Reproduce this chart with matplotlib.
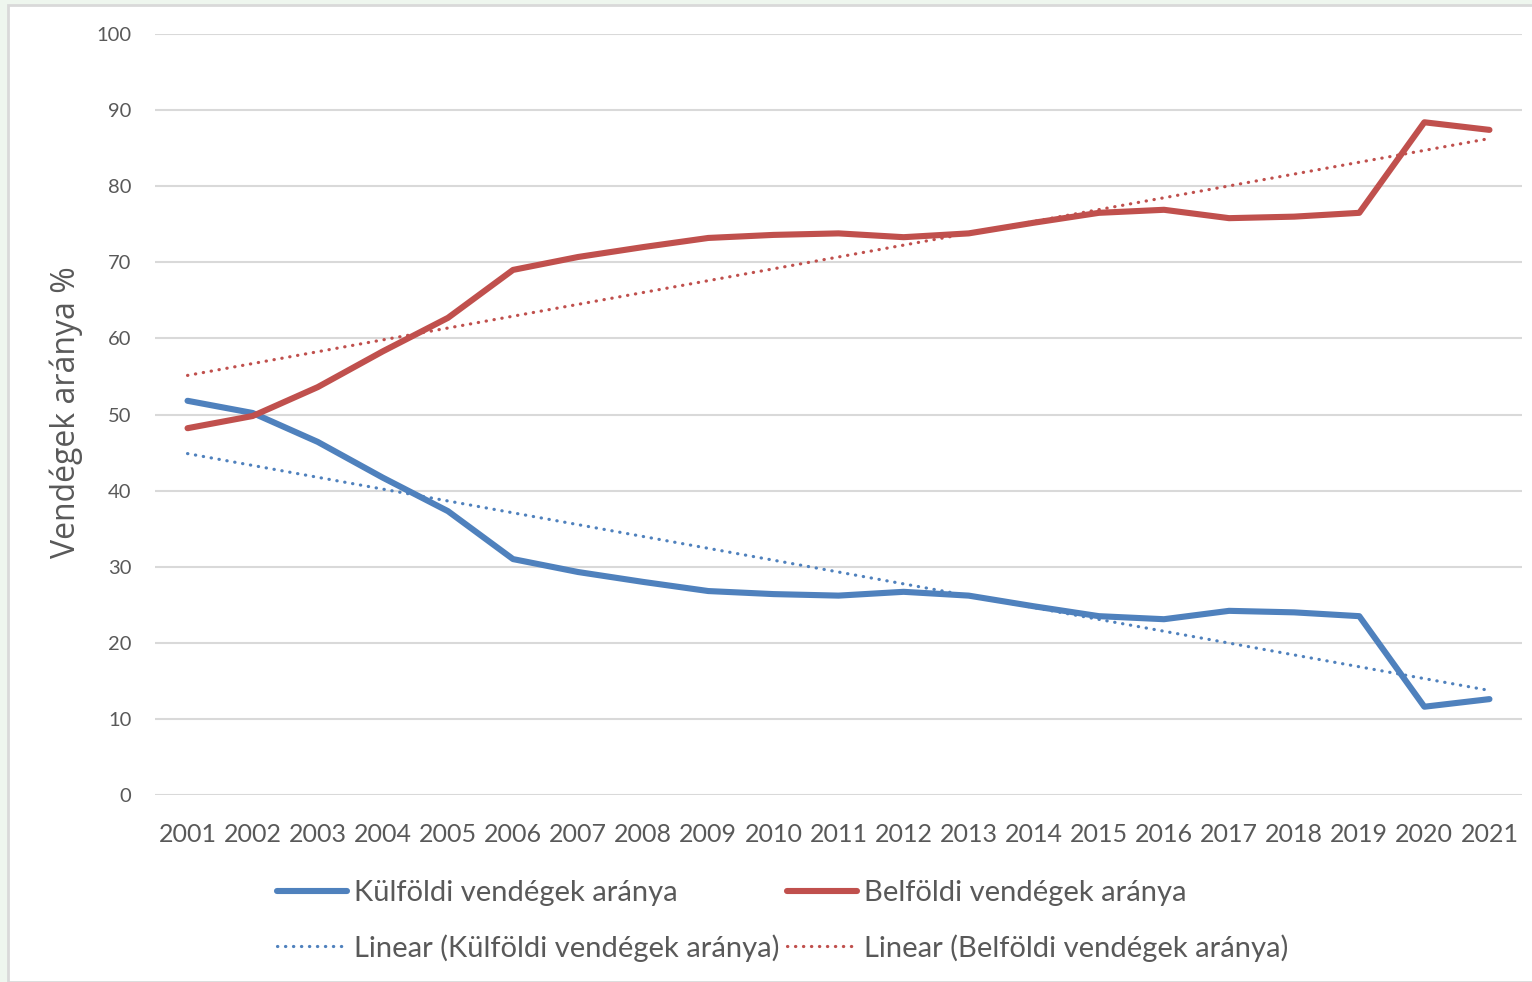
import matplotlib
matplotlib.use("Agg")
import matplotlib.pyplot as plt
import numpy as np
from matplotlib.patches import Rectangle

# data
years = [str(y) for y in range(2001, 2022)]
kulfoldi = [51.8, 50.2, 46.4, 41.7, 37.3, 31.0, 29.3, 28.0, 26.8, 26.4, 26.2,
            26.7, 26.2, 24.8, 23.5, 23.1, 24.2, 24.0, 23.5, 11.6, 12.6]
belfoldi = [48.2, 49.8, 53.6, 58.3, 62.7, 69.0, 70.7, 72.0, 73.2, 73.6, 73.8,
            73.3, 73.8, 75.2, 76.5, 76.9, 75.8, 76.0, 76.5, 88.4, 87.4]
y_ticks = [0, 10, 20, 30, 40, 50, 60, 70, 80, 90, 100]

label_k = "Külföldi vendégek aránya"
label_b = "Belföldi vendégek aránya"

BLUE = "#4f81bd"
RED = "#c0504d"
TXT = "#595959"
FONT = ["Lato", "DejaVu Sans"]

fig = plt.figure(figsize=(15.32, 9.82), dpi=100)
fig.patch.set_facecolor("#eef6ee")
fig.patches.append(Rectangle((8 / 1532, 0), 1, 1 - 5 / 982, transform=fig.transFigure,
                             facecolor="white", edgecolor="#d9d9d9", linewidth=2, zorder=-10))

ax = fig.add_axes([155 / 1532, 1 - 795 / 982, (1522 - 155) / 1532, (795 - 34) / 982])
ax.set_facecolor("white")

x = np.arange(len(years))
# linear trendlines, as Excel fits them
fit_k = np.polyfit(x, kulfoldi, 1)
fit_b = np.polyfit(x, belfoldi, 1)

l1, = ax.plot(x, kulfoldi, color=BLUE, lw=4.4, solid_capstyle="round", solid_joinstyle="round", zorder=3)
l2, = ax.plot(x, belfoldi, color=RED, lw=4.4, solid_capstyle="round", solid_joinstyle="round", zorder=3)
t1, = ax.plot(x, np.polyval(fit_k, x), color=BLUE, lw=2.3, ls=(0, (0.1, 2.4)),
              dash_capstyle="round", zorder=2)
t2, = ax.plot(x, np.polyval(fit_b, x), color=RED, lw=2.3, ls=(0, (0.1, 2.4)),
              dash_capstyle="round", zorder=2)

ax.set_xlim(-0.5, len(years) - 0.5)
ax.set_ylim(0, 100)
ax.set_xticks(x)
ax.set_xticklabels(years)
ax.set_yticks(y_ticks)
ax.grid(axis="y", color="#d9d9d9", lw=1.5)
ax.set_axisbelow(True)
for s in ax.spines.values():
    s.set_visible(False)
ax.tick_params(axis="both", length=0, colors=TXT)
ax.tick_params(axis="y", pad=17, labelsize=14.5)
ax.tick_params(axis="x", pad=20, labelsize=18)
for lab in ax.get_xticklabels() + ax.get_yticklabels():
    lab.set_family(FONT)

fig.text(66 / 1532, 1 - 412 / 982, "Vendégek aránya %", rotation=90, ha="center", va="center",
         fontsize=23, color=TXT, family=["Open Sans", "DejaVu Sans"])

leg = fig.legend([l1, t1, l2, t2],
                 [label_k, "Linear (" + label_k + ")", label_b, "Linear (" + label_b + ")"],
                 ncol=2, loc="center", bbox_to_anchor=(783 / 1532, 1 - 921 / 982),
                 frameon=False, handlelength=2.4, handletextpad=0.25, columnspacing=0.25,
                 labelspacing=0.95, prop={"family": FONT, "size": 21})
for t in leg.get_texts():
    t.set_color(TXT)

fig.savefig("out.png", dpi=100, facecolor=fig.get_facecolor())
